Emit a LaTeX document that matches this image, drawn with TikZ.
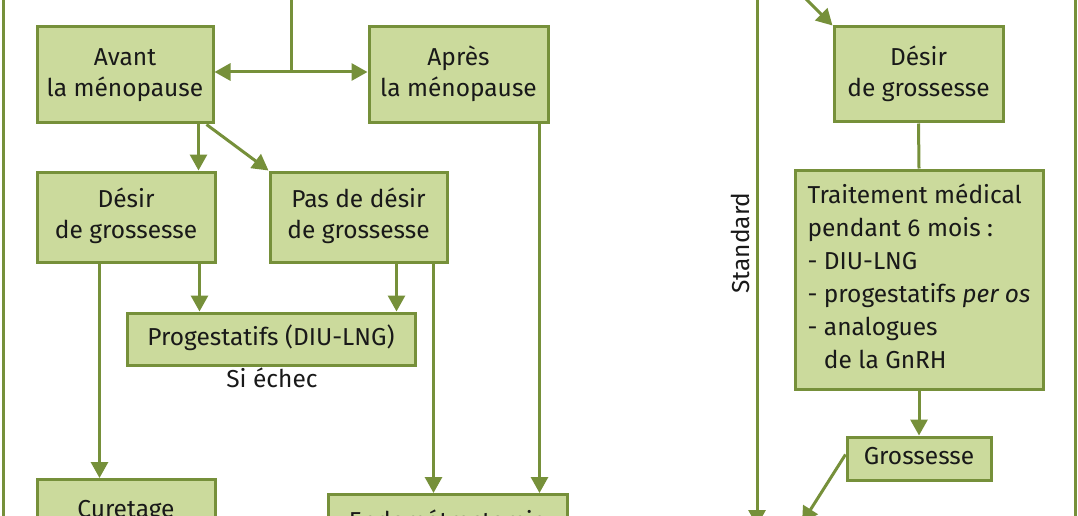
\documentclass[tikz,border=0pt]{standalone}
\usepackage{fontspec}
\setmainfont{Fira Sans}
\usetikzlibrary{shapes,arrows.meta}
\definecolor{mygreen}{RGB}{203,218,156}
\definecolor{myolive}{RGB}{118,144,58}

\begin{document}
\begin{tikzpicture}[x=1pt,y=-1pt]

\tikzstyle{box} = [draw=myolive, fill=mygreen, line width=3, inner sep=0, text=black!90,
font=\fontsize{24.5}{31}\selectfont]
\tikzstyle{label_txt} = [text=black!90, font=\fontsize{24.5}{31}\selectfont]
\tikzstyle{link} = [draw=myolive, line width=3]
\tikzstyle{arr} = [link, -{Triangle[length=16pt,width=17pt]}]
\tikzstyle{dbl} = [link, {Triangle[length=16pt,width=17pt]}-{Triangle[length=16pt,width=17pt]}]

\useasboundingbox (0,0) rectangle (1078,516);
\clip (0,0) rectangle (1078,516);

% left column
\node [box, minimum width=176, minimum height=96] (avant) at (125,75) {\begin{tabular}{c} Avant\\ la ménopause\end{tabular}};
\node [box, minimum width=179, minimum height=96] (apres) at (458.5,75) {\begin{tabular}{c} Après\\ la ménopause\end{tabular}};

\node [box, minimum width=178, minimum height=90] (desir) at (126,217) {\begin{tabular}{c} Désir\\ de grossesse\end{tabular}};
\node [box, minimum width=177, minimum height=90] (pasdesir) at (358.5,217) {\begin{tabular}{c} Pas de désir\\ de grossesse\end{tabular}};

\node [box, minimum width=288, minimum height=52] (progest) at (271,339) {\begin{tabular}{c} Progestatifs (DIU-LNG)\end{tabular}};
\node [label_txt] (echec) at (272,378) {Si échec};

\node [box, minimum width=178, anchor=north, text height=38pt, text depth=52pt] (curet) at (126,478) {\begin{tabular}{c} Curetage\end{tabular}};
\node [box, minimum width=239, anchor=north, text height=35pt, text depth=60pt] (endom) at (447.5,493) {\begin{tabular}{c} Endométrectomie\end{tabular}};

% right column
\node [box, minimum width=169, minimum height=95] (desir_r) at (918.5,74.5) {\begin{tabular}{c} Désir\\ de grossesse\end{tabular}};
\node [box, minimum width=248, minimum height=219, font=\fontsize{24.5}{33}\selectfont] (traitement) at (919,279.5) {\begin{tabular}{l} Traitement médical\\ pendant 6 mois :\\ - DIU-LNG\\ - progestatifs \textit{per os}\\ - analogues\\ \phantom{- }de la GnRH\end{tabular}};
\node [box, minimum width=144, minimum height=43] (gross) at (919,458.5) {\begin{tabular}{c} Grossesse\end{tabular}};

\node [label_txt, rotate=90] (standard) at (740,243) {Standard};

% connectors
\coordinate (ltop) at (3,-5);
\coordinate (lbot) at (3,521);
\coordinate (rtop) at (1075,-5);
\coordinate (rbot) at (1075,521);
\coordinate (topin) at (291,-5);
\coordinate (split) at (291,72);
\coordinate (diagin) at (802,-5);
\coordinate (stdtop) at (757,-5);
\coordinate (stdend) at (757,526);
\coordinate (grossend) at (802,523);

\draw [link] (ltop) -- (lbot);
\draw [link] (rtop) -- (rbot);
\draw [link] (topin) -- (split);
\draw [dbl] (avant.east |- split) -- (apres.west |- split);

\draw [arr] ([xshift=-16]avant.south east) -- ([xshift=-16]avant.south east |- desir.north);
\draw [arr] ([xshift=-8]avant.south east) -- (pasdesir.north west);
\draw [arr] ([xshift=-17]desir.south east) -- ([xshift=-17]desir.south east |- progest.north);
\draw [arr] ([xshift=-52]pasdesir.south east) -- ([xshift=-52]pasdesir.south east |- progest.north);
\draw [arr] ([xshift=64]desir.south west) -- ([xshift=64]desir.south west |- curet.north);
\draw [arr] ([xshift=-15]pasdesir.south east) -- ([xshift=-15]pasdesir.south east |- endom.north);
\draw [arr] ([xshift=-10]apres.south east) -- ([xshift=-10]apres.south east |- endom.north);

\draw [arr] (diagin) -- (desir_r.north west);
\draw [link] (desir_r.south) -- (traitement.north);
\draw [arr] (traitement.south) -- (gross.north);
\draw [arr] ([yshift=4]gross.west) -- (grossend);
\draw [arr] (stdtop) -- (stdend);

\end{tikzpicture}
\end{document}
